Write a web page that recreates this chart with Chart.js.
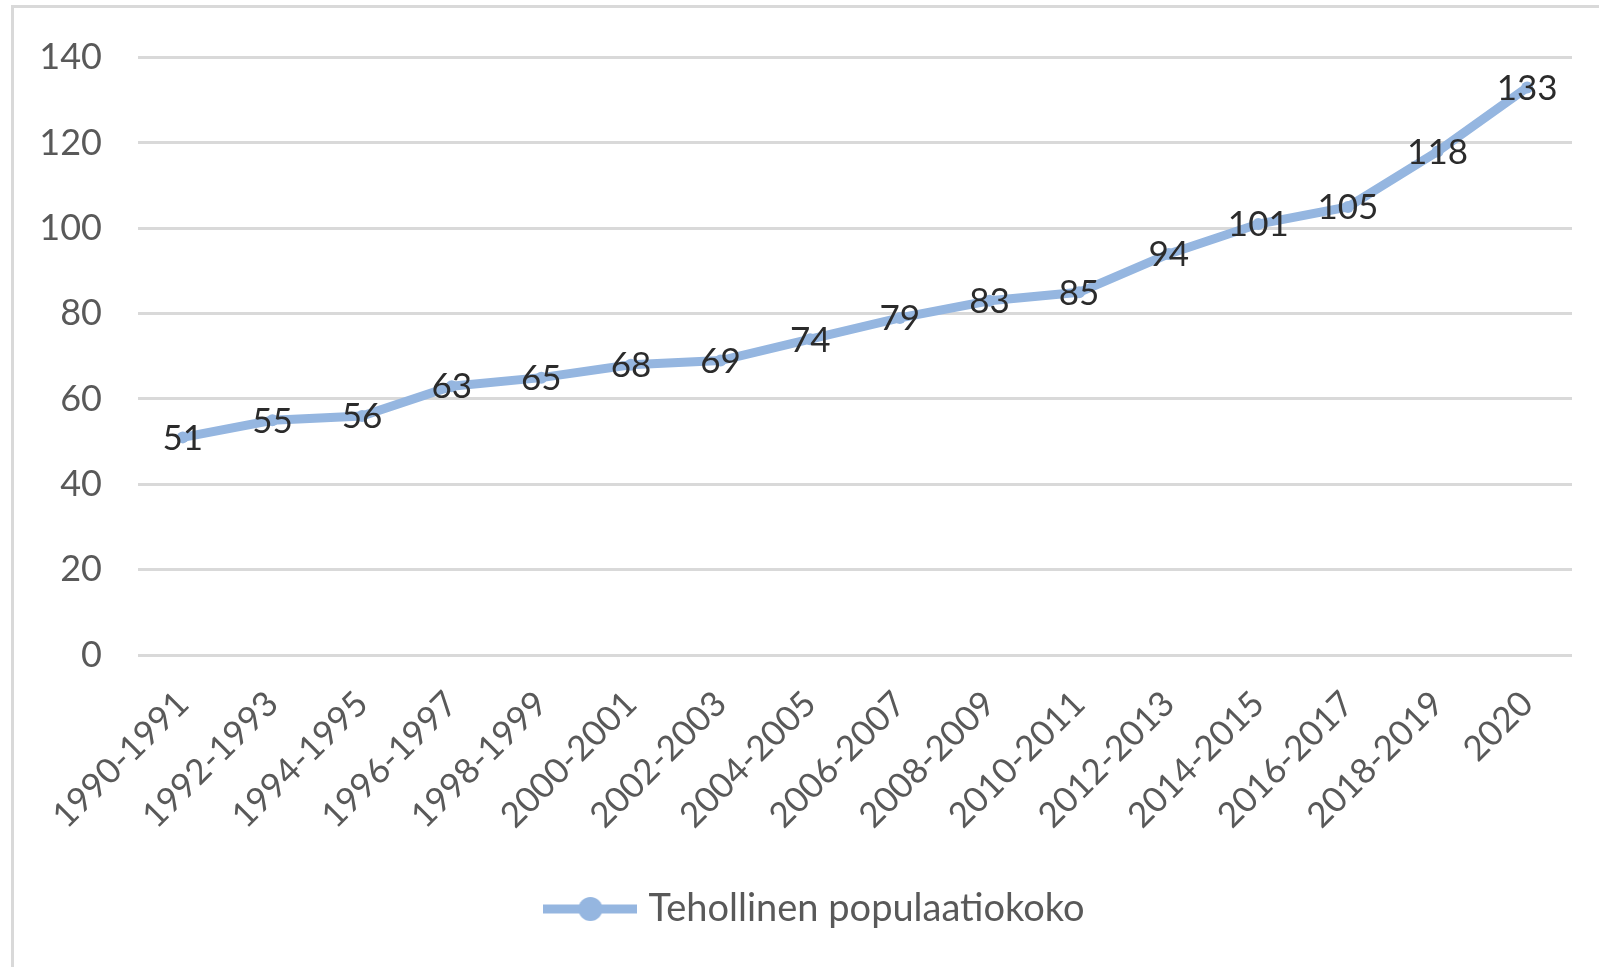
<!DOCTYPE html>
<html>
<head>
<meta charset="utf-8">
<script src="https://cdn.jsdelivr.net/npm/chart.js@4.4.1/dist/chart.umd.min.js"></script>
<style>
  html, body { margin: 0; padding: 0; background: #fff; }
  #wrap { position: relative; width: 1599px; height: 967px; overflow: hidden; }
  #frame { position: absolute; left: 11px; top: 5px; width: 1700px; height: 1100px;
           border-top: 3px solid #d9d9d9; border-left: 3px solid #d9d9d9; }
  canvas { position: absolute; left: 0; top: 0; }
</style>
</head>
<body>
<div id="wrap">
  <div id="frame"></div>
  <canvas id="myChart" width="1599" height="967"></canvas>
</div>
<script>
const labels = ["1990-1991", "1992-1993", "1994-1995", "1996-1997", "1998-1999",
  "2000-2001", "2002-2003", "2004-2005", "2006-2007", "2008-2009", "2010-2011",
  "2012-2013", "2014-2015", "2016-2017", "2018-2019", "2020"];
const values = [51, 55, 56, 63, 65, 68, 69, 74, 79, 83, 85, 94, 101, 105, 118, 133];
const seriesName = "Tehollinen populaatiokoko";
const yTicks = [0, 20, 40, 60, 80, 100, 120, 140];

const lineColor = "#95b6e0";
const fontFamily = "Lato, 'Open Sans', sans-serif";

// legend symbol: line with a dot in the middle
const legendIcon = document.createElement("canvas");
legendIcon.width = 94;
legendIcon.height = 30;
{
  const c = legendIcon.getContext("2d");
  c.strokeStyle = lineColor;
  c.lineWidth = 9;
  c.beginPath();
  c.moveTo(0, 15);
  c.lineTo(94, 15);
  c.stroke();
  c.fillStyle = lineColor;
  c.beginPath();
  c.arc(47, 15, 12, 0, Math.PI * 2);
  c.fill();
}

// value labels centered on the points
const valueLabels = {
  id: "valueLabels",
  afterLayout(chart) {
    // legend sits a bit right of centre in the original
    chart.legend.left += 64;
  },
  afterDatasetsDraw(chart) {
    const ctx = chart.ctx;
    const meta = chart.getDatasetMeta(0);
    ctx.save();
    ctx.font = "35px " + fontFamily;
    ctx.fillStyle = "#2b2b2b";
    ctx.textAlign = "center";
    ctx.textBaseline = "middle";
    meta.data.forEach((pt, i) => {
      ctx.fillText(String(values[i]), pt.x, pt.y + 1);
    });
    ctx.restore();
  },
};

const myChart = new Chart(document.getElementById("myChart"), {
  type: "line",
  data: {
    labels: labels,
    datasets: [
      {
        label: seriesName,
        data: values,
        borderColor: lineColor,
        backgroundColor: lineColor,
        borderWidth: 9,
        pointRadius: 6,
        pointHoverRadius: 6,
        pointBackgroundColor: lineColor,
        pointBorderWidth: 0,
        tension: 0,
      },
    ],
  },
  options: {
    responsive: false,
    animation: false,
    events: [],
    layout: { padding: { left: 0, right: 27, top: 57, bottom: 29 } },
    scales: {
      x: {
        offset: true,
        grid: { display: false },
        border: { display: false },
        afterFit(scale) { scale.height = 225; },
        ticks: {
          autoSkip: false,
          minRotation: 45,
          maxRotation: 45,
          padding: 20,
          color: "#595959",
          font: { family: fontFamily, size: 35 },
        },
      },
      y: {
        min: 0,
        max: 140,
        afterFit(scale) { scale.width = 138; },
        afterBuildTicks(scale) { scale.ticks = yTicks.map((v) => ({ value: v })); },
        border: { display: false },
        grid: { color: "#d9d9d9", lineWidth: 3, drawTicks: false },
        ticks: {
          padding: 36,
          color: "#595959",
          font: { family: fontFamily, size: 36 },
        },
      },
    },
    plugins: {
      tooltip: { enabled: false },
      legend: {
        position: "bottom",
        labels: {
          usePointStyle: true,
          pointStyle: legendIcon,
          pointStyleWidth: 78,
          padding: 10,
          color: "#595959",
          font: { family: fontFamily, size: 38 },
        },
      },
    },
  },
  plugins: [valueLabels],
});
</script>
</body>
</html>
